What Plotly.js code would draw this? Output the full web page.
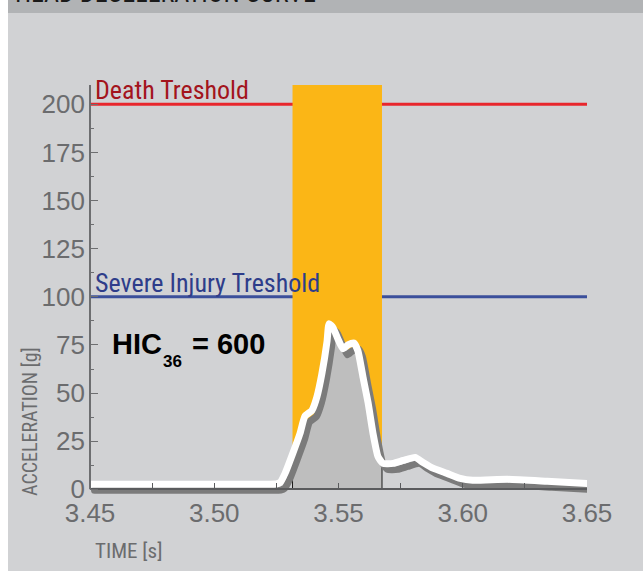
<!DOCTYPE html>
<html>
<head>
<meta charset="utf-8">
<script src="https://cdn.plot.ly/plotly-3.0.1.min.js"></script>
<style>
  html, body { margin: 0; padding: 0; background: #d1d2d4; }
  #chart { width: 643px; height: 571px; }
  .scatterlayer .js-line { stroke-linejoin: round; stroke-linecap: round; }
</style>
</head>
<body>
<div id="chart"></div>
<script>
// ---- data ----
const time  = [3.45, 3.46, 3.47, 3.48, 3.49, 3.50, 3.51, 3.52, 3.525, 3.5265, 3.5285, 3.5317, 3.5345, 3.5365, 3.5393, 3.5413, 3.5433, 3.5454, 3.5462, 3.5478, 3.5498, 3.5518, 3.5538, 3.5562, 3.5578, 3.5599, 3.5619, 3.5639, 3.5659, 3.5679, 3.572, 3.576, 3.5808, 3.584, 3.588, 3.5937, 3.599, 3.604, 3.618, 3.634, 3.65];
const accel = [2.6, 2.6, 2.7, 2.6, 2.7, 2.7, 2.6, 2.7, 2.8, 3.6, 8.3, 19, 29, 38, 41, 48, 60, 77, 86, 84, 78, 73, 75, 76, 72, 58, 45, 29, 17, 13.5, 13.5, 15, 16.6, 14, 11, 8.3, 5.7, 4.7, 5.2, 4.2, 3.1];
const hicWindow = [3.5315, 3.5675];        // 36 ms HIC window [s]
const windowEdgeAccel = [7.8, 11.4];       // height of window edge marks [g]
const thresholdValues = [200, 100];
const thresholdLabels = ['Death Treshold', 'Severe Injury Treshold'];
const thresholdColors = ['#e8262c', '#3b4f9b'];
const thresholdTextColors = ['#a3141c', '#2e3d8a'];
const hicName = 'HIC';
const hicSub = '36';
const hicValue = '= 600';
const xTickVals = [3.45, 3.50, 3.55, 3.60, 3.65];
const xTickText = ['3.45', '3.50', '3.55', '3.60', '3.65'];
const yTickVals = [0, 25, 50, 75, 100, 125, 150, 175, 200];
const yTickText = ['0', '25', '50', '75', '100', '125', '150', '175', '200'];
const chartTitle = 'HEAD DECELERATION CURVE';
const xTitle = 'TIME [s]';
const yTitle = 'ACCELERATION [g]';

// ---- layout geometry ----
const W = 643, H = 571;
const M = {l: 90, r: 56, t: 85, b: 72};
const xRange = [3.45, 3.65];
const yRange = [-5, 210];
const plotW = W - M.l - M.r, plotH = H - M.t - M.b;
const px2x = px => (px - M.l) / plotW;          // pixel -> paper x
const py2y = py => (H - M.b - py) / plotH;       // pixel -> paper y

// shadow offset (style)
const dx = 4.5 * (xRange[1] - xRange[0]) / plotW;
const dy = -6 * (yRange[1] - yRange[0]) / plotH;

const shX = time.map(t => t + dx);
const shY = accel.map(a => a + dy);

// gray filled area inside the HIC window (under the shadow)
const fx = [hicWindow[0], hicWindow[0]];
const fy = [0, windowEdgeAccel[0]];
shX.forEach((x, i) => { if (x > hicWindow[0] && x < hicWindow[1]) { fx.push(x); fy.push(shY[i]); } });
fx.push(hicWindow[1], hicWindow[1]);
fy.push(windowEdgeAccel[1], 0);

const narrow = '"Liberation Sans Narrow", "Arial Narrow", "Roboto Condensed", "Liberation Sans", sans-serif';
const sans = '"Liberation Sans", Arial, sans-serif';
const gray = '#6b6c6e';

const traces = [
  {x: fx, y: fy, mode: 'lines', fill: 'toself', fillcolor: '#bebebe',
   line: {color: '#1a1a1a', width: 1}, hoverinfo: 'skip', showlegend: false},
  {x: shX, y: shY, mode: 'lines', line: {color: '#7b7b7b', width: 7, shape: 'spline', smoothing: 0.5},
   hoverinfo: 'skip', showlegend: false},
  {x: time, y: accel, mode: 'lines', line: {color: '#ffffff', width: 7, shape: 'spline', smoothing: 0.5},
   showlegend: false}
];

const shapes = [
  // white strip at the left edge and dark band at the top
  {type: 'rect', xref: 'paper', yref: 'paper', x0: px2x(-2), x1: px2x(8), y0: py2y(H + 2), y1: py2y(-2),
   fillcolor: '#ffffff', line: {width: 0}, layer: 'below'},
  {type: 'rect', xref: 'paper', yref: 'paper', x0: px2x(8), x1: px2x(W + 2), y0: py2y(13), y1: py2y(-2),
   fillcolor: '#b1b3b5', line: {width: 0}, layer: 'below'},
  // HIC window
  {type: 'rect', xref: 'x', yref: 'y', x0: hicWindow[0], x1: hicWindow[1], y0: 0, y1: yRange[1],
   fillcolor: '#fbb616', line: {width: 0}, layer: 'below'},
  // y axis line
  {type: 'line', xref: 'paper', yref: 'y', x0: 0, x1: 0, y0: 0, y1: yRange[1],
   line: {color: '#6d6e70', width: 2}, layer: 'above'}
];
thresholdValues.forEach((v, i) => {
  shapes.push({type: 'line', xref: 'paper', yref: 'y', x0: 0, x1: 1, y0: v, y1: v,
    line: {color: thresholdColors[i], width: 3}, layer: 'below'});
});

const bold = {family: sans, size: 29, color: '#000000', weight: 'bold'};
const annotations = [
  {text: chartTitle, xref: 'paper', yref: 'paper', x: px2x(14), y: py2y(8.5), xanchor: 'left', yanchor: 'bottom',
   showarrow: false, borderpad: 0, font: {family: narrow, size: 26, color: '#1a1a1a'}},
  {text: hicName, xref: 'paper', yref: 'paper', x: px2x(111), y: py2y(327), xanchor: 'left', yanchor: 'top',
   showarrow: false, borderpad: 0, font: bold},
  {text: hicSub, xref: 'paper', yref: 'paper', x: px2x(162), y: py2y(351), xanchor: 'left', yanchor: 'top',
   showarrow: false, borderpad: 0, font: {family: sans, size: 17, color: '#000000', weight: 'bold'}},
  {text: hicValue, xref: 'paper', yref: 'paper', x: px2x(191), y: py2y(327), xanchor: 'left', yanchor: 'top',
   showarrow: false, borderpad: 0, font: bold},
  {text: xTitle, xref: 'paper', yref: 'paper', x: px2x(94), y: py2y(564), xanchor: 'left', yanchor: 'bottom',
   showarrow: false, borderpad: 0, font: {family: narrow, size: 21, color: gray}},
  {text: yTitle, xref: 'paper', yref: 'paper', x: px2x(30), y: py2y(422), xanchor: 'center', yanchor: 'middle',
   textangle: -90, showarrow: false, borderpad: 0, font: {family: narrow, size: 20, color: gray}}
];
thresholdValues.forEach((v, i) => {
  annotations.push({text: thresholdLabels[i], xref: 'paper', yref: 'y', x: px2x(94), y: v,
    xanchor: 'left', yanchor: 'bottom', yshift: -2, showarrow: false, borderpad: 0,
    font: {family: narrow, size: 26, color: thresholdTextColors[i]}});
});

const layout = {
  width: W, height: H,
  margin: M,
  paper_bgcolor: '#d1d2d4',
  plot_bgcolor: 'rgba(0,0,0,0)',
  showlegend: false,
  xaxis: {
    range: xRange, anchor: 'free', position: (0 - yRange[0]) / (yRange[1] - yRange[0]),
    showgrid: false, zeroline: false, showline: true, linecolor: '#5a5b5d', linewidth: 2,
    tickmode: 'array', tickvals: xTickVals, ticktext: xTickText,
    ticks: 'inside', ticklen: 5, tickwidth: 1, tickcolor: '#5a5b5d',
    minor: {dtick: 0.025, tick0: 3.45, ticks: 'inside', ticklen: 5, tickcolor: '#5a5b5d', showgrid: false},
    tickfont: {family: sans, size: 26, color: gray},
    fixedrange: true
  },
  yaxis: {
    range: yRange, showgrid: false, zeroline: false, showline: false,
    tickmode: 'array', tickvals: yTickVals, ticktext: yTickText,
    ticks: 'inside', ticklen: 8, tickwidth: 1, tickcolor: '#6d6e70',
    minor: {dtick: 12.5, tick0: 0, ticks: 'inside', ticklen: 4, tickcolor: '#6d6e70', showgrid: false},
    tickfont: {family: sans, size: 26, color: gray},
    ticklabelstandoff: 4,
    fixedrange: true
  },
  shapes: shapes,
  annotations: annotations
};

Plotly.newPlot('chart', traces, layout, {displayModeBar: false, staticPlot: true});
</script>
</body>
</html>
